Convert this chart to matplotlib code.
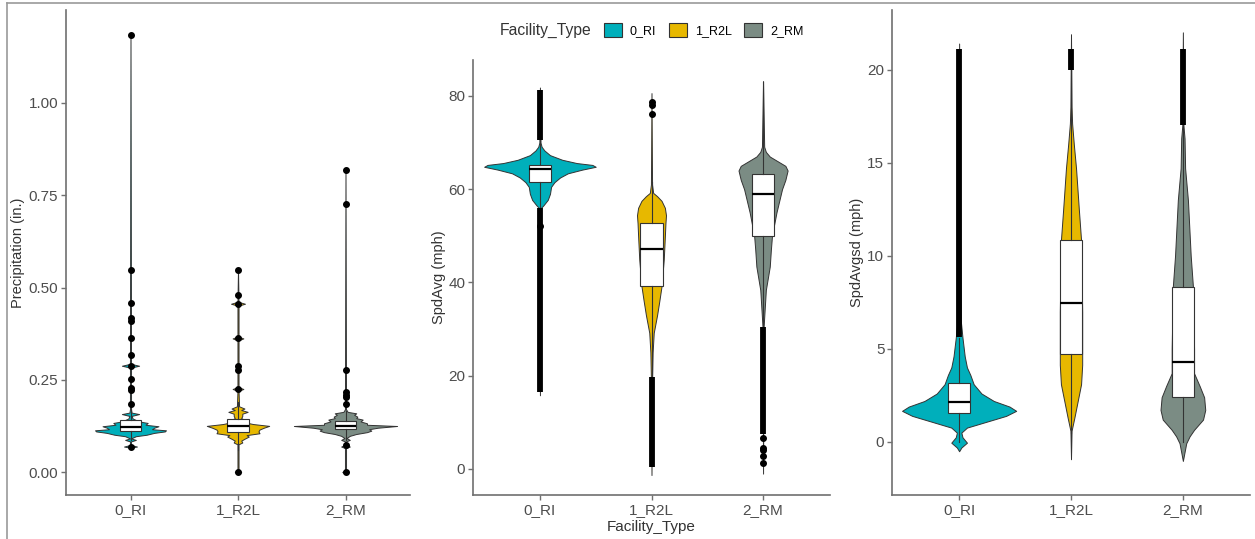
import numpy as np
import matplotlib.pyplot as plt
from matplotlib.patches import Patch
from matplotlib.lines import Line2D

plt.rcParams['font.family'] = ['Liberation Sans', 'DejaVu Sans']

categories = ['0_RI', '1_R2L', '2_RM']
colors = ['#00AFBB', '#E7B800', '#7B8C84']

# violin outlines: value and half width (x units)
prec_ri_y = [0.062, 0.066, 0.069, 0.073, 0.083, 0.087, 0.091, 0.097, 0.101, 0.106, 0.110, 0.113, 0.116,
             0.120, 0.124, 0.128, 0.133, 0.137, 0.145, 0.152, 0.157, 0.161, 0.170, 0.283, 0.288, 0.293, 1.190]
prec_ri_w = [0, 0.005, 0.06, 0.005, 0.005, 0.05, 0.005, 0.05, 0.15, 0.22, 0.32, 0.33, 0.20,
             0.22, 0.26, 0.14, 0.16, 0.08, 0.02, 0.01, 0.08, 0.01, 0.005, 0.005, 0.08, 0.005, 0]
prec_r2l_y = [-0.005, 0.0, 0.005, 0.075, 0.080, 0.085, 0.090, 0.096, 0.100, 0.105, 0.110, 0.115, 0.120,
              0.125, 0.130, 0.135, 0.140, 0.146, 0.152, 0.158, 0.163, 0.168, 0.172, 0.178, 0.220, 0.225,
              0.230, 0.357, 0.362, 0.367, 0.451, 0.456, 0.461, 0.550]
prec_r2l_w = [0, 0.03, 0.005, 0.005, 0.04, 0.03, 0.06, 0.10, 0.08, 0.20, 0.19, 0.20, 0.24,
              0.29, 0.14, 0.06, 0.07, 0.03, 0.04, 0.04, 0.09, 0.03, 0.06, 0.01, 0.005, 0.05,
              0.005, 0.005, 0.05, 0.005, 0.005, 0.065, 0.005, 0]
prec_rm_y = [-0.005, 0.0, 0.005, 0.065, 0.069, 0.074, 0.083, 0.087, 0.092, 0.098, 0.103, 0.108, 0.112,
             0.116, 0.120, 0.1247, 0.128, 0.132, 0.137, 0.142, 0.146, 0.150, 0.155, 0.159, 0.163, 0.170, 0.820]
prec_rm_w = [0, 0.03, 0.005, 0.005, 0.04, 0.005, 0.005, 0.04, 0.01, 0.04, 0.10, 0.20, 0.24,
             0.22, 0.30, 0.48, 0.20, 0.20, 0.14, 0.16, 0.10, 0.11, 0.08, 0.10, 0.02, 0.005, 0]

spd_ri_y = [15.8, 56.0, 56.5, 57.7, 59.0, 60.5, 61.5, 62.5, 63.4, 64.2, 64.8, 65.2, 65.6, 66.3, 67.3, 68.3, 69.1, 70.0, 81.8]
spd_ri_w = [0, 0.01, 0.03, 0.07, 0.09, 0.10, 0.13, 0.18, 0.25, 0.38, 0.50, 0.47, 0.33, 0.20, 0.09, 0.04, 0.015, 0.005, 0]
spd_r2l_y = [-1.3, 19.0, 25.0, 29.2, 33.0, 36.0, 39.2, 45.0, 50.0, 52.7, 54.4, 56.0, 57.5, 58.5, 59.2, 61.0, 80.6]
spd_r2l_w = [0, 0.005, 0.01, 0.02, 0.05, 0.07, 0.09, 0.11, 0.12, 0.125, 0.13, 0.12, 0.09, 0.05, 0.015, 0.005, 0]
spd_rm_y = [-1.0, 30.5, 38.4, 43.4, 47.0, 50.0, 55.0, 60.0, 62.0, 64.0, 65.0, 66.0, 67.0, 68.0, 69.1, 83.2]
spd_rm_w = [0, 0.005, 0.025, 0.06, 0.07, 0.08, 0.12, 0.17, 0.20, 0.22, 0.20, 0.13, 0.06, 0.025, 0.01, 0]

sd_ri_y = [-0.5, -0.3, -0.04, 0.25, 0.5, 0.77, 1.13, 1.4, 1.67, 1.9, 2.2, 2.6, 3.1, 3.6, 4.0, 4.6, 5.6, 6.5, 21.4]
sd_ri_w = [0, 0.02, 0.07, 0.03, 0.02, 0.07, 0.27, 0.42, 0.51, 0.45, 0.31, 0.20, 0.13, 0.10, 0.07, 0.05, 0.03, 0.015, 0]
sd_r2l_y = [-0.93, 0.6, 1.3, 2.2, 3.1, 4.14, 4.71, 7.0, 10.84, 12.5, 14.7, 16.0, 17.1, 18.0, 21.9]
sd_r2l_w = [0, 0.005, 0.03, 0.06, 0.09, 0.10, 0.10, 0.10, 0.09, 0.07, 0.045, 0.025, 0.01, 0.005, 0]
sd_rm_y = [-1.02, -0.07, 0.3, 0.65, 1.2, 1.72, 2.4, 3.0, 3.69, 5.0, 8.33, 10.0, 13.0, 14.7, 16.3, 17.0, 22.0]
sd_rm_w = [0, 0.03, 0.06, 0.10, 0.18, 0.20, 0.19, 0.15, 0.10, 0.10, 0.09, 0.07, 0.045, 0.02, 0.015, 0.005, 0]

# box stats: q1, median, q3, whisker low, whisker high
prec_box = [[0.112, 0.123, 0.140, 0.086, 0.180], [0.109, 0.124, 0.143, 0.06, 0.19], [0.116, 0.125, 0.137, 0.087, 0.165]]
spd_box = [[61.6, 64.4, 65.2, 56.2, 70.5], [39.2, 47.2, 52.7, 19.3, 61.5], [50.0, 58.9, 63.2, 30.6, 83.0]]
sd_box = [[1.58, 2.15, 3.19, 0.0, 5.6], [4.71, 7.45, 10.84, 0.5, 20.0], [2.44, 4.3, 8.33, 0.0, 17.0]]

# single outliers
prec_fliers = [[1.184, 0.548, 0.458, 0.416, 0.410, 0.362, 0.318, 0.288, 0.251, 0.227, 0.222, 0.183, 0.069],
               [0.548, 0.480, 0.456, 0.362, 0.288, 0.277, 0.225, 0.0],
               [0.818, 0.726, 0.277, 0.218, 0.210, 0.203, 0.183, 0.072, 0.0]]
spd_fliers = [[52.2], [78.7, 78.0, 76.2], [6.6, 4.5, 4.0, 2.7, 1.2]]
sd_fliers = [[], [], []]

# runs of outliers so dense they merge into a thick bar (from, to)
prec_dense = [[], [], []]
spd_dense = [[(16.4, 56.0), (70.6, 81.3)], [(0.5, 19.7)], [(7.5, 30.5)]]
sd_dense = [[(5.65, 21.1)], [(20.0, 21.1)], [(17.0, 21.1)]]

fig = plt.figure(figsize=(12.55, 5.39), dpi=100)

axcol = '#707070'


def panel(rect, vy, vw, boxes, fliers, dense, ylim, yticks, fmt, ylabel, xlabel=None, lab_x=-0.1):
    ax = fig.add_axes(rect)
    pos = [1, 2, 3]
    for i in range(3):
        y = np.array(vy[i])
        w = np.array(vw[i])
        ax.fill_betweenx(y, pos[i] - w, pos[i] + w, facecolor=colors[i],
                         edgecolor='#333333', lw=0.7, zorder=1)
    stats = []
    for i in range(3):
        q1, med, q3, lo, hi = boxes[i]
        stats.append(dict(q1=q1, med=med, q3=q3, whislo=lo, whishi=hi, fliers=fliers[i]))
    ax.bxp(stats, positions=pos, widths=0.2, patch_artist=True, showcaps=False,
           boxprops=dict(facecolor='white', edgecolor='#333333', lw=0.8),
           medianprops=dict(color='black', lw=1.6),
           whiskerprops=dict(color='#333333', lw=0.8),
           flierprops=dict(marker='o', markerfacecolor='black', markeredgecolor='black', markersize=4),
           zorder=3)
    for i in range(3):
        for a, b in dense[i]:
            ax.vlines(pos[i], a, b, color='black', lw=4.2, zorder=4)
    ax.set_xlim(0.4, 3.6)
    ax.set_ylim(*ylim)
    ax.set_xticks(pos)
    ax.set_xticklabels(categories)
    ax.set_yticks(yticks)
    ax.set_yticklabels([fmt % t for t in yticks])
    for s in ['top', 'right']:
        ax.spines[s].set_visible(False)
    for s in ['left', 'bottom']:
        ax.spines[s].set_color(axcol)
        ax.spines[s].set_linewidth(1.2)
    ax.tick_params(colors=axcol, labelcolor='#4D4D4D', labelsize=11, length=3.5, width=1, pad=2)
    ax.set_ylabel(ylabel, fontsize=10.5, color='#333333', va='center')
    ax.yaxis.set_label_coords(lab_x, 0.5)
    if xlabel:
        ax.set_xlabel(xlabel, fontsize=11, color='#333333', va='center')
        ax.xaxis.set_label_coords(0.5, -0.074)
    return ax


panel([66 / 1255, 44 / 539, 344 / 1255, 485 / 539], [prec_ri_y, prec_r2l_y, prec_rm_y],
      [prec_ri_w, prec_r2l_w, prec_rm_w], prec_box, prec_fliers, prec_dense,
      (-0.0623, 1.252), [0, 0.25, 0.5, 0.75, 1.0], '%.2f', 'Precipitation (in.)', lab_x=-0.14)
panel([473 / 1255, 44 / 539, 357 / 1255, 435 / 539], [spd_ri_y, spd_r2l_y, spd_rm_y],
      [spd_ri_w, spd_r2l_w, spd_rm_w], spd_box, spd_fliers, spd_dense,
      (-5.58, 87.7), [0, 20, 40, 60, 80], '%d', 'SpdAvg (mph)', xlabel='Facility_Type', lab_x=-0.095)
panel([892 / 1255, 44 / 539, 358 / 1255, 485 / 539], [sd_ri_y, sd_r2l_y, sd_rm_y],
      [sd_ri_w, sd_r2l_w, sd_rm_w], sd_box, sd_fliers, sd_dense,
      (-2.85, 23.2), [0, 5, 10, 15, 20], '%d', 'SpdAvgsd (mph)', lab_x=-0.099)

# legend on top of the middle panel
fig.text(500 / 1255, 1 - 30 / 539, 'Facility_Type', fontsize=11.3, color='#333333', va='center', ha='left')
handles = [Patch(facecolor=c, edgecolor='#333333', lw=0.8) for c in colors]
fig.legend(handles, categories, loc='center left', bbox_to_anchor=(604 / 1255, 1 - 30 / 539),
           ncol=3, frameon=False, fontsize=9, handlelength=1.44, handleheight=1.44,
           handletextpad=0.64, columnspacing=1.0, borderpad=0, borderaxespad=0)

# screenshot frame
fig.add_artist(Line2D([7 / 1255, 1], [1 - 3 / 539, 1 - 3 / 539], transform=fig.transFigure, color='#999999', lw=1.2))
fig.add_artist(Line2D([7 / 1255, 7 / 1255], [0, 1 - 3 / 539], transform=fig.transFigure, color='#999999', lw=1.2))

fig.savefig('out.png', dpi=100)
